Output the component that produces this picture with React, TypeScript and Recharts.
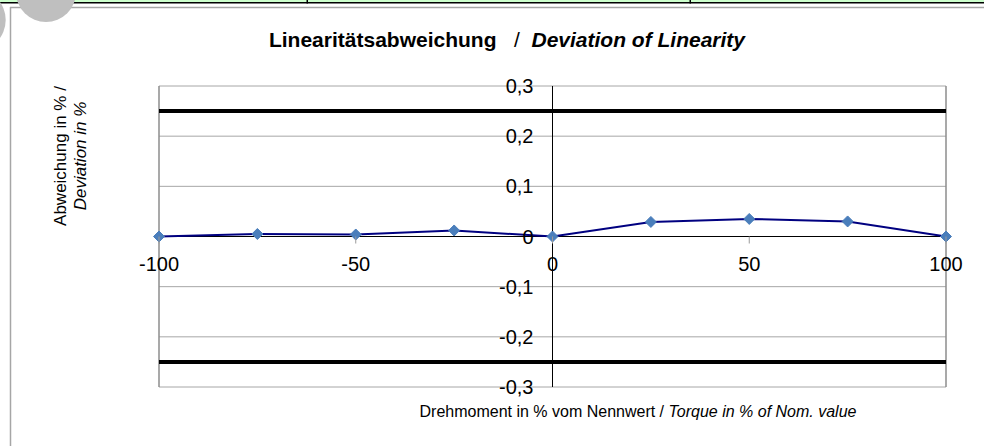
import * as React from "react";
import {
  LineChart,
  Line,
  XAxis,
  YAxis,
  CartesianGrid,
  ReferenceLine,
} from "recharts";

// torque in % of nominal value
const torquePoints = [-100, -75, -50, -25, 0, 25, 50, 75, 100];
// deviation of linearity in %
const deviationValues = [0, 0.005, 0.004, 0.012, 0, 0.029, 0.035, 0.03, 0];
const xTickValues = [-100, -50, 0, 50, 100];
const yTickValues = [-0.3, -0.2, -0.1, 0, 0.1, 0.2, 0.3];
const limitValues = [0.25, -0.25];

const W = 984;
const H = 446;
const LEFT = 159;
const RIGHT = 38;
const TOP = 86;
const BOTTOM = 59;
const PLOT_W = W - LEFT - RIGHT;
const PLOT_H = H - TOP - BOTTOM;
const ZERO_X = LEFT + PLOT_W / 2;
const ZERO_Y = TOP + PLOT_H / 2;

const FONT = "'Liberation Sans', Arial, sans-serif";

const data = torquePoints.map((t, i) => ({ torque: t, deviation: deviationValues[i] }));

const fmt = (v: number) => String(v).replace(".", ",");

function XTick(props: any) {
  const { x, payload } = props;
  return (
    <g>
      <line x1={x} x2={x} y1={ZERO_Y} y2={ZERO_Y + 7} stroke="#9a9a9a" />
      <text x={x} y={ZERO_Y + 34} textAnchor="middle" fontSize={20} fontFamily={FONT} fill="#000">
        {fmt(payload.value)}
      </text>
    </g>
  );
}

function YTick(props: any) {
  const { y, payload } = props;
  return (
    <text x={ZERO_X - 19} y={y} dy={7} textAnchor="end" fontSize={20} fontFamily={FONT} fill="#000">
      {fmt(payload.value)}
    </text>
  );
}

function Diamond(props: any) {
  const { cx, cy, index } = props;
  if (cx == null || cy == null) return <g key={index} />;
  const r = 5.5;
  return (
    <polygon
      key={index}
      points={`${cx},${cy - r} ${cx + r},${cy} ${cx},${cy + r} ${cx - r},${cy}`}
      fill="#4a7ebb"
      stroke="#4a7ebb"
    />
  );
}

export default function App() {
  return (
    <div style={{ position: "absolute", left: 0, top: 0, width: W, height: H, background: "#fff" }}>
      <LineChart
        width={W}
        height={H}
        data={data}
        margin={{ top: TOP, right: RIGHT, bottom: BOTTOM - 1, left: LEFT - 1 }}
      >
        <CartesianGrid horizontal vertical={false} stroke="#a6a6a6" />
        <XAxis
          dataKey="torque"
          type="number"
          domain={[-100, 100]}
          ticks={xTickValues}
          axisLine={false}
          tickLine={false}
          height={1}
          tick={<XTick />}
          interval={0}
        />
        <YAxis
          type="number"
          domain={[-0.3, 0.3]}
          ticks={yTickValues}
          axisLine={false}
          tickLine={false}
          width={1}
          tick={<YTick />}
          interval={0}
        />
        <ReferenceLine x={-100} stroke="#8c8c8c" strokeWidth={1.5} />
        <ReferenceLine x={100} stroke="#8c8c8c" strokeWidth={1.5} />
        <ReferenceLine y={0} stroke="#000" strokeWidth={1} />
        <ReferenceLine x={0} stroke="#000" strokeWidth={1} />
        {limitValues.map((v) => (
          <ReferenceLine key={v} y={v} stroke="#000" strokeWidth={4} />
        ))}
        <Line
          type="linear"
          dataKey="deviation"
          stroke="#000080"
          strokeWidth={2}
          dot={<Diamond />}
          activeDot={false}
          isAnimationActive={false}
        />
      </LineChart>

      <svg
        width={W}
        height={H}
        style={{ position: "absolute", left: 0, top: 0, pointerEvents: "none" }}
      >
        <rect x={0} y={0} width={W} height={2} fill="#ccffcc" />
        <rect x={0} y={2} width={W} height={1.5} fill="#000" />
        <rect x={306.5} y={0} width={1.5} height={3.5} fill="#000" />
        <rect x={689.5} y={0} width={1.5} height={3.5} fill="#000" />
        <line x1={10} x2={W} y1={7.5} y2={7.5} stroke="#a6a6a6" strokeWidth={1.5} />
        <line x1={10.5} x2={10.5} y1={7} y2={H} stroke="#a6a6a6" strokeWidth={1.5} />
        <circle cx={46} cy={-8} r={30} fill="#bfbfbf" />
        <circle cx={-25.6} cy={20} r={31.3} fill="#bfbfbf" />

        <text
          x={507}
          y={47}
          textAnchor="middle"
          fontSize={21}
          fontFamily={FONT}
          fill="#000"
          style={{ whiteSpace: "pre" }}
        >
          <tspan fontWeight="bold">Linearitätsabweichung</tspan>
          <tspan>{"   /  "}</tspan>
          <tspan fontWeight="bold" fontStyle="italic">Deviation of Linearity</tspan>
        </text>

        <text
          transform="translate(66,156) rotate(-90)"
          textAnchor="middle"
          fontSize={17}
          fontFamily={FONT}
          fill="#000"
        >
          Abweichung in % /
        </text>
        <text
          transform="translate(86,156) rotate(-90)"
          textAnchor="middle"
          fontSize={17}
          fontFamily={FONT}
          fontStyle="italic"
          fill="#000"
        >
          Deviation in %
        </text>

        <text x={638} y={417} textAnchor="middle" fontSize={16} fontFamily={FONT} fill="#000">
          <tspan>Drehmoment in % vom Nennwert / </tspan>
          <tspan fontStyle="italic">Torque in % of Nom. value</tspan>
        </text>
      </svg>
    </div>
  );
}
